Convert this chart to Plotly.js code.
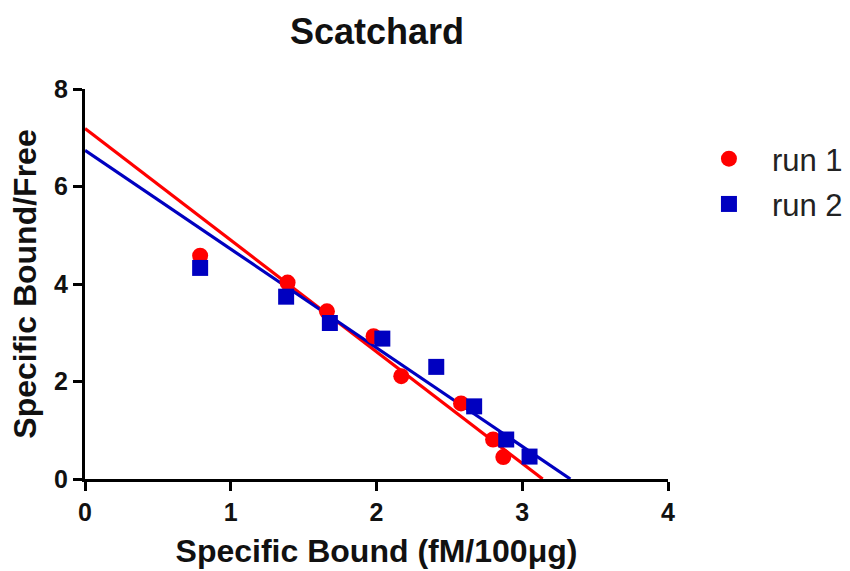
<!DOCTYPE html>
<html>
<head>
<meta charset="utf-8">
<script src="https://cdn.plot.ly/plotly-3.0.1.min.js"></script>
<style>html,body{margin:0;padding:0;background:#fff;}#chart{width:850px;height:571px;}</style>
</head>
<body>
<div id="chart"></div>
<script>
// Data
const run1X = [0.79, 1.39, 1.66, 1.98, 2.17, 2.58, 2.80, 2.87];
const run1Y = [4.58, 4.03, 3.44, 2.93, 2.11, 1.55, 0.81, 0.45];
const run2X = [0.79, 1.38, 1.68, 2.04, 2.41, 2.67, 2.89, 3.05];
const run2Y = [4.33, 3.74, 3.20, 2.88, 2.30, 1.49, 0.81, 0.46];
// Fitted regression lines (end points)
const fit1X = [0, 3.14];
const fit1Y = [7.19, 0];
const fit2X = [0, 3.33];
const fit2Y = [6.74, 0];
const xTicks = [0, 1, 2, 3, 4];
const yTicks = [0, 2, 4, 6, 8];

const RED = '#ff0000';
const BLUE = '#0000c0';

const traces = [
  {x: fit1X, y: fit1Y, mode: 'lines', line: {color: RED, width: 3.2}, showlegend: false, hoverinfo: 'skip', cliponaxis: false},
  {x: fit2X, y: fit2Y, mode: 'lines', line: {color: BLUE, width: 3.2}, showlegend: false, hoverinfo: 'skip', cliponaxis: false},
  {x: run1X, y: run1Y, mode: 'markers', name: 'run 1', legendgroup: 'a',
   marker: {symbol: 'circle', color: RED, size: 16}, cliponaxis: false},
  {x: run2X, y: run2Y, mode: 'markers', name: 'run 2', legendgroup: 'b',
   marker: {symbol: 'square', color: BLUE, size: 16}, cliponaxis: false}
];

const layout = {
  width: 850, height: 571,
  paper_bgcolor: '#fff', plot_bgcolor: '#fff',
  margin: {l: 85, r: 182, t: 89, b: 92, pad: 0},
  font: {family: 'Liberation Sans, Arial, sans-serif', color: '#000'},
  title: {text: '<b>Scatchard</b>', font: {size: 36, color: '#111'}, x: 0.4435, xanchor: 'center', y: 0.9457, yanchor: 'middle'},
  xaxis: {
    range: [0, 4], tickvals: xTicks, ticktext: xTicks.map(v => '<b>' + v + '</b>'),
    showgrid: false, zeroline: false, showline: true, linecolor: '#000', linewidth: 3,
    ticks: 'outside', ticklen: 9, tickwidth: 3, tickcolor: '#000',
    tickfont: {size: 25, color: '#111'}, automargin: false,
    title: {text: '<b>Specific Bound (fM/100μg)</b>', font: {size: 32, color: '#111'}, standoff: 15}
  },
  yaxis: {
    range: [0, 8], tickvals: yTicks, ticktext: yTicks.map(v => '<b>' + v + '</b>'),
    showgrid: false, zeroline: false, showline: true, linecolor: '#000', linewidth: 3,
    ticks: 'outside', ticklen: 9, tickwidth: 3, tickcolor: '#000',
    tickfont: {size: 25, color: '#111'}, automargin: false,
    title: {text: '<b>Specific Bound/Free</b>', font: {size: 32, color: '#111'}, standoff: 8}
  },
  legend: {
    xref: 'container', yref: 'container',
    x: 0.807, xanchor: 'left', y: 1 - 132 / 571, yanchor: 'top',
    font: {size: 31, color: '#222'}, traceorder: 'grouped', tracegroupgap: 2,
    itemwidth: 76, bgcolor: 'rgba(0,0,0,0)'
  },
  showlegend: true
};

Plotly.newPlot('chart', traces, layout, {displayModeBar: false, staticPlot: true});
</script>
</body>
</html>
